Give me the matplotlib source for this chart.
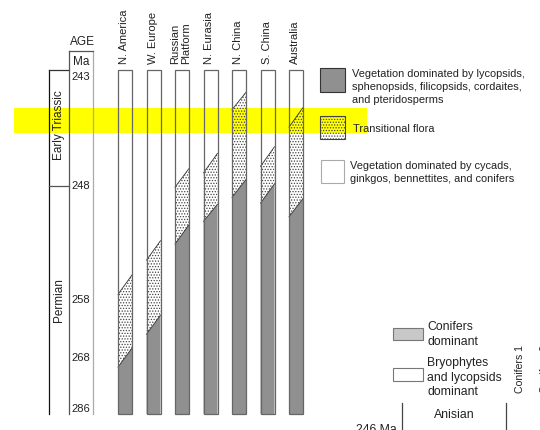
import numpy as np
import matplotlib
matplotlib.use("Agg")
import matplotlib.pyplot as plt
from matplotlib.patches import Polygon, Rectangle

plt.rcParams['font.family'] = ['Liberation Sans', 'DejaVu Sans']
plt.rcParams['hatch.linewidth'] = 0.6

# ---- data ----
regions = ["N. America", "W. Europe", "Russian\nPlatform", "N. Eurasia",
           "N. China", "S. China", "Australia"]
# top of lycopsid-dominated (gray) zone, Ma, at left / right edge of column
gray_top_left = [271.2, 263.9, 253.1, 251.1, 249.0, 249.5, 250.7]
gray_top_right = [266.3, 260.6, 251.4, 249.6, 247.7, 247.9, 249.1]
# top of transitional (stippled) zone, Ma
stip_top_left = [257.5, 254.5, 248.1, 247.4, 244.5, 247.1, 245.3]
stip_top_right = [255.8, 252.8, 247.2, 246.5, 243.7, 246.2, 244.4]
age_ticks = [243, 248, 258, 268, 286]
chart_top_ma, chart_bottom_ma = 242.68, 287.76
periods = ["Early Triassic", "Permian"]
period_boundary = 248

# ---- non-linear (schematic) age axis: Ma -> pixel row ----
anchor_ma = np.array([240, 243, 248, 258, 268, 286, 290], float)
anchor_px = np.array([11.6, 77, 186, 300, 358, 409, 420.3], float)
fwd = lambda m: np.interp(m, anchor_ma, anchor_px)
inv = lambda p: np.interp(p, anchor_px, anchor_ma)

W, H = 540, 430
fig = plt.figure(figsize=(W / 100, H / 100), dpi=100)
ov = fig.add_axes([0, 0, 1, 1])
ov.set_xlim(0, W); ov.set_ylim(H, 0); ov.axis('off')
ov.patch.set_alpha(0)

col_top_px, col_bot_px = 70, 414
ax = fig.add_axes([0, (H - col_bot_px) / H, 1, (col_bot_px - col_top_px) / H], zorder=2)
ax.set_yscale('function', functions=(fwd, inv))
ax.set_xlim(0, W)
ax.set_ylim(chart_bottom_ma, chart_top_ma)
ax.axis('off')
ax.patch.set_alpha(0)

# yellow highlight band (behind everything)
ov.add_patch(Rectangle((14, 108), 353, 25, facecolor='#ffff00', edgecolor='none', zorder=0))

GRAY = '#909090'
col_w = 14
for i, name in enumerate(regions):
    x0 = 118 + 28.5 * i
    x1 = x0 + col_w
    gl, gr = gray_top_left[i], gray_top_right[i]
    sl, sr = stip_top_left[i], stip_top_right[i]
    ax.add_patch(Polygon([(x0, chart_bottom_ma), (x1, chart_bottom_ma), (x1, gr), (x0, gl)],
                         closed=True, facecolor=GRAY, edgecolor='none', zorder=2))
    ax.add_patch(Polygon([(x0, gl), (x1, gr), (x1, sr), (x0, sl)], closed=True,
                         facecolor='none', edgecolor='#444444', linewidth=0,
                         hatch='......', zorder=2))
    ax.plot([x0, x1], [gl, gr], color='#333333', lw=0.6, zorder=3)
    ax.plot([x0, x1], [sl, sr], color='#333333', lw=0.6, zorder=3)
    ax.add_patch(Rectangle((x0, chart_top_ma), col_w, chart_bottom_ma - chart_top_ma,
                           facecolor='none', edgecolor='#666666', lw=0.9, zorder=4,
                           clip_on=False))
    ov.text(x0 + col_w / 2 - 1, 64, name, rotation=90, ha='center', va='bottom',
            multialignment='left', fontsize=8, linespacing=1.15, color='#222222')

# age column
for t in age_ticks:
    ax.text(71, t, str(t), ha='left', va='center', fontsize=8, color='#222222', zorder=5)
ov.plot([49, 49], [70, 414], color='#111111', lw=0.9, zorder=3)
ov.plot([49, 69], [70, 70], color='#333333', lw=0.9, zorder=3)
ov.plot([69, 69], [51, 414], color='#555555', lw=0.9, zorder=3)
ov.plot([93, 93], [51, 414], color='#aaaaaa', lw=0.9, zorder=3)
ov.plot([69, 93], [51, 51], color='#555555', lw=0.9, zorder=3)
ax.plot([49, 69], [period_boundary, period_boundary], color='#555555', lw=0.9, zorder=3)
ov.text(82, 42, "AGE", ha='center', va='center', fontsize=8.5, color='#222222')
ov.text(81, 62, "Ma", ha='center', va='center', fontsize=8.5, color='#222222')
ov.text(59, 125, periods[0], rotation=90, ha='center', va='center', fontsize=8.5,
        color='#222222', zorder=3)
ov.text(59, 300, periods[1], rotation=90, ha='center', va='center', fontsize=8.5,
        color='#222222', zorder=3)

# legend (right)
fs = 7.9
ov.add_patch(Rectangle((320, 68), 25, 24, facecolor=GRAY, edgecolor='#333333', lw=0.8, zorder=2))
for k, s in enumerate(["Vegetation dominated by lycopsids,",
                       "sphenopsids, filicopsids, cordaites,",
                       "and pteridosperms"]):
    ov.text(352, 74 + 13 * k, s, ha='left', va='center', fontsize=fs, color='#222222')
ov.add_patch(Rectangle((320, 116), 25, 23, facecolor='none', edgecolor='#444444',
                       lw=0.8, hatch='......', zorder=2))
ov.text(353, 129, "Transitional flora", ha='left', va='center', fontsize=fs, color='#222222')
ov.add_patch(Rectangle((321, 160), 23, 23, facecolor='white', edgecolor='#aaaaaa', lw=0.8, zorder=2))
for k, s in enumerate(["Vegetation dominated by cycads,",
                       "ginkgos, bennettites, and conifers"]):
    ov.text(350, 166 + 12.5 * k, s, ha='left', va='center', fontsize=fs, color='#222222')

# lower-right fragment of neighbouring figure
fs2 = 8.8
ov.add_patch(Rectangle((393, 328), 30, 12, facecolor='#c8c8c8', edgecolor='#777777', lw=0.8))
ov.text(427, 327, "Conifers", ha='left', va='center', fontsize=fs2, color='#222222')
ov.text(427, 342, "dominant", ha='left', va='center', fontsize=fs2, color='#222222')
ov.add_patch(Rectangle((393, 368), 30, 13, facecolor='white', edgecolor='#777777', lw=0.8))
for k, s in enumerate(["Bryophytes", "and lycopsids", "dominant"]):
    ov.text(427, 363 + 14.5 * k, s, ha='left', va='center', fontsize=fs2, color='#222222')
ov.text(520, 393, "Conifers 1", rotation=90, ha='center', va='bottom', fontsize=7.6, color='#222222')
ov.text(545, 393, "Conifers 2", rotation=90, ha='center', va='bottom', fontsize=7.6, color='#222222')
ov.plot([402, 402], [403, 432], color='#444444', lw=0.9)
ov.plot([506, 506], [403, 432], color='#444444', lw=0.9)
ov.text(454, 415, "Anisian", ha='center', va='center', fontsize=fs2, color='#222222')
ov.text(397, 424, "246 Ma", ha='right', va='top', fontsize=fs2, color='#222222')

fig.savefig("out.png", dpi=100, facecolor='white')
